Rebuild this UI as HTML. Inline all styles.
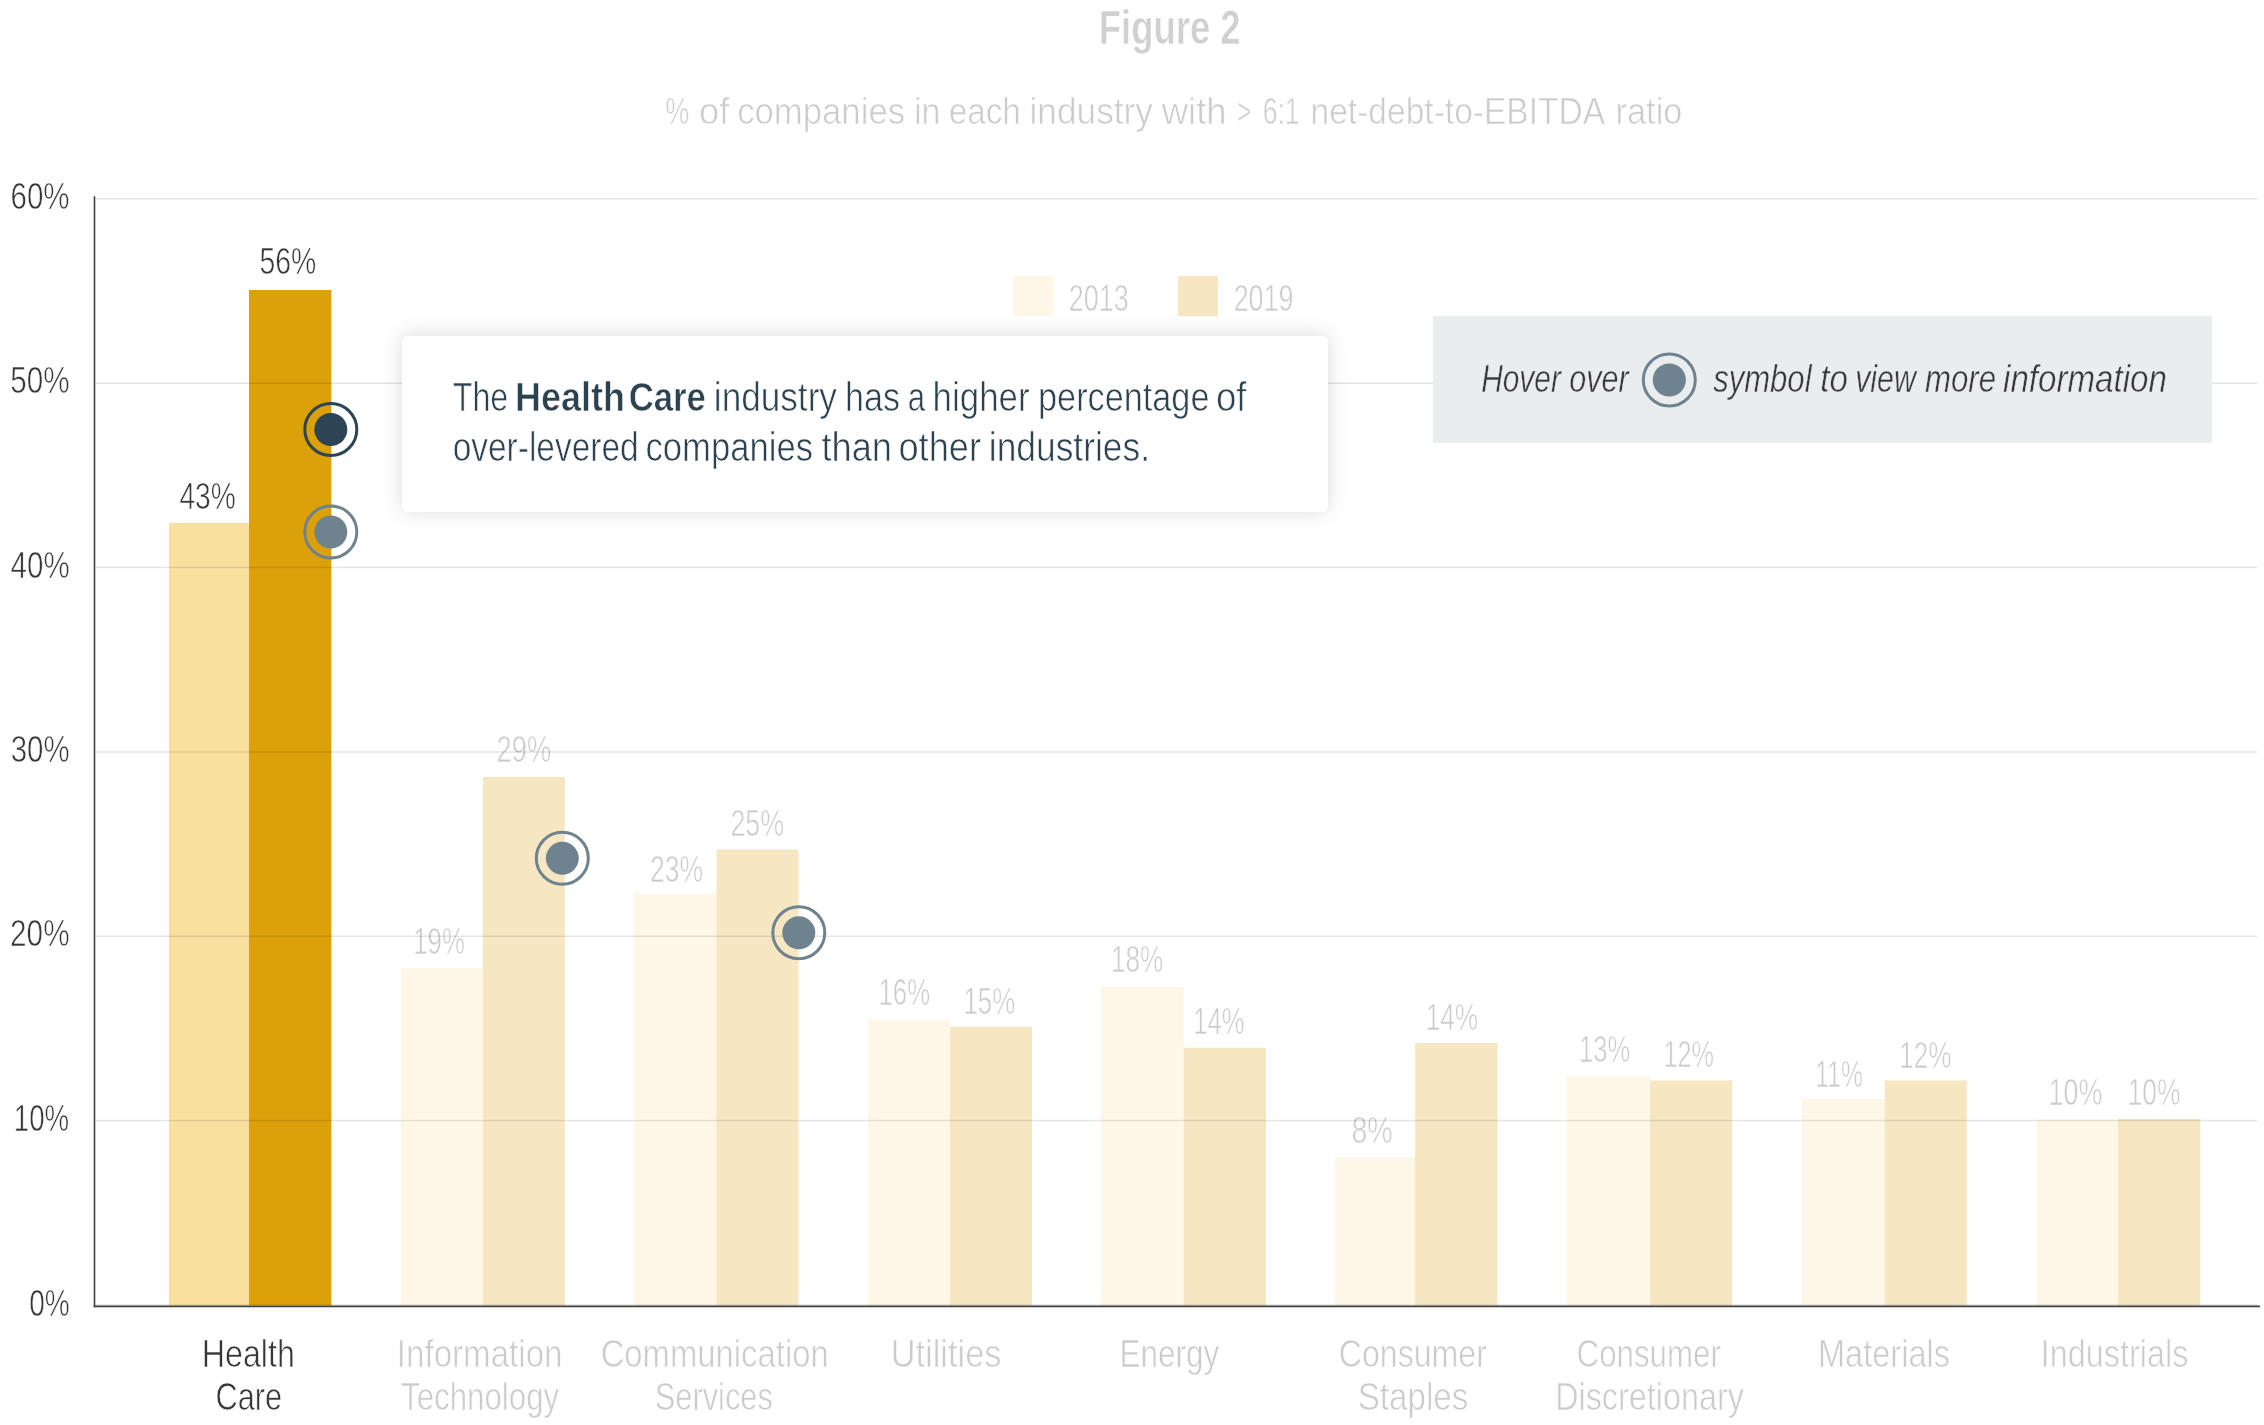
<!DOCTYPE html>
<html><head><meta charset="utf-8"><title>Figure 2</title>
<style>
html,body{margin:0;padding:0;background:#fff;}
body{width:2264px;height:1425px;overflow:hidden;font-family:"Liberation Sans",sans-serif;}
svg{display:block;position:absolute;left:0;top:0;}
text{font-family:"Liberation Sans",sans-serif;}
</style></head><body>
<svg width="2264" height="1425" viewBox="0 0 2264 1425">
<defs><filter id="sh" x="-10%" y="-40%" width="120%" height="180%"><feDropShadow dx="0" dy="-1" stdDeviation="10" flood-color="#000" flood-opacity="0.15"/></filter></defs>
<rect width="2264" height="1425" fill="#fff"/>
<g opacity="0.999">
<text x="1098.76" y="44.25" font-size="48" fill="#d0d0d0" stroke="#fff" stroke-width="0.6" textLength="141.82" lengthAdjust="spacingAndGlyphs" font-weight="bold">Figure 2</text>
<text x="665.30" y="123.75" font-size="36" fill="#cbcbcb" stroke="#fff" stroke-width="0.65" textLength="24.14" lengthAdjust="spacingAndGlyphs" >%</text>
<text x="699.04" y="123.75" font-size="36" fill="#cbcbcb" stroke="#fff" stroke-width="0.65" textLength="30.29" lengthAdjust="spacingAndGlyphs" >of</text>
<text x="737.13" y="123.75" font-size="36" fill="#cbcbcb" stroke="#fff" stroke-width="0.65" textLength="167.96" lengthAdjust="spacingAndGlyphs" >companies</text>
<text x="913.89" y="123.75" font-size="36" fill="#cbcbcb" stroke="#fff" stroke-width="0.65" textLength="26.47" lengthAdjust="spacingAndGlyphs" >in</text>
<text x="948.74" y="123.75" font-size="36" fill="#cbcbcb" stroke="#fff" stroke-width="0.65" textLength="72.10" lengthAdjust="spacingAndGlyphs" >each</text>
<text x="1029.48" y="123.75" font-size="36" fill="#cbcbcb" stroke="#fff" stroke-width="0.65" textLength="123.49" lengthAdjust="spacingAndGlyphs" >industry</text>
<text x="1161.70" y="123.75" font-size="36" fill="#cbcbcb" stroke="#fff" stroke-width="0.65" textLength="64.98" lengthAdjust="spacingAndGlyphs" >with</text>
<text x="1236.93" y="123.75" font-size="36" fill="#cbcbcb" stroke="#fff" stroke-width="0.65" textLength="14.19" lengthAdjust="spacingAndGlyphs" >&gt;</text>
<text x="1262.64" y="123.75" font-size="36" fill="#cbcbcb" stroke="#fff" stroke-width="0.65" textLength="36.96" lengthAdjust="spacingAndGlyphs" >6:1</text>
<text x="1310.50" y="123.75" font-size="36" fill="#cbcbcb" stroke="#fff" stroke-width="0.65" textLength="294.67" lengthAdjust="spacingAndGlyphs" >net-debt-to-EBITDA</text>
<text x="1615.58" y="123.75" font-size="36" fill="#cbcbcb" stroke="#fff" stroke-width="0.65" textLength="66.80" lengthAdjust="spacingAndGlyphs" >ratio</text>
<rect x="169" y="522.9" width="80.00" height="782.50" fill="#FAE09E"/>
<rect x="249" y="290" width="82.40" height="1015.40" fill="#DCA00B"/>
<rect x="400.7" y="968.2" width="82.30" height="337.20" fill="#FAE09E" fill-opacity="0.25"/>
<rect x="483" y="777" width="81.90" height="528.40" fill="#DCA00B" fill-opacity="0.25"/>
<rect x="634.3" y="893.5" width="82.20" height="411.90" fill="#FAE09E" fill-opacity="0.25"/>
<rect x="716.5" y="849.5" width="82.00" height="455.90" fill="#DCA00B" fill-opacity="0.25"/>
<rect x="868" y="1019.7" width="82.00" height="285.70" fill="#FAE09E" fill-opacity="0.25"/>
<rect x="950" y="1026.8" width="82.00" height="278.60" fill="#DCA00B" fill-opacity="0.25"/>
<rect x="1101.1" y="987" width="82.70" height="318.40" fill="#FAE09E" fill-opacity="0.25"/>
<rect x="1183.8" y="1047.8" width="82.20" height="257.60" fill="#DCA00B" fill-opacity="0.25"/>
<rect x="1335" y="1157.1" width="80.10" height="148.30" fill="#FAE09E" fill-opacity="0.25"/>
<rect x="1415.1" y="1043" width="82.50" height="262.40" fill="#DCA00B" fill-opacity="0.25"/>
<rect x="1567" y="1075.8" width="83.00" height="229.60" fill="#FAE09E" fill-opacity="0.25"/>
<rect x="1650" y="1080.5" width="82.00" height="224.90" fill="#DCA00B" fill-opacity="0.25"/>
<rect x="1801.7" y="1099" width="83.00" height="206.40" fill="#FAE09E" fill-opacity="0.25"/>
<rect x="1884.7" y="1080.5" width="82.10" height="224.90" fill="#DCA00B" fill-opacity="0.25"/>
<rect x="2036.3" y="1119.7" width="81.70" height="185.70" fill="#FAE09E" fill-opacity="0.25"/>
<rect x="2118" y="1119" width="82.30" height="186.40" fill="#DCA00B" fill-opacity="0.25"/>
<text x="10.50" y="208.70" font-size="37" fill="#363636" stroke="#fff" stroke-width="0.65" textLength="59.08" lengthAdjust="spacingAndGlyphs" >60%</text>
<text x="10.30" y="393.20" font-size="37" fill="#363636" stroke="#fff" stroke-width="0.65" textLength="59.33" lengthAdjust="spacingAndGlyphs" >50%</text>
<text x="10.62" y="577.60" font-size="37" fill="#363636" stroke="#fff" stroke-width="0.65" textLength="58.99" lengthAdjust="spacingAndGlyphs" >40%</text>
<text x="10.71" y="761.90" font-size="37" fill="#363636" stroke="#fff" stroke-width="0.65" textLength="58.91" lengthAdjust="spacingAndGlyphs" >30%</text>
<text x="10.05" y="946.30" font-size="37" fill="#363636" stroke="#fff" stroke-width="0.65" textLength="59.54" lengthAdjust="spacingAndGlyphs" >20%</text>
<text x="13.87" y="1130.50" font-size="37" fill="#363636" stroke="#fff" stroke-width="0.65" textLength="55.34" lengthAdjust="spacingAndGlyphs" >10%</text>
<text x="29.15" y="1315.75" font-size="37" fill="#363636" stroke="#fff" stroke-width="0.65" textLength="40.53" lengthAdjust="spacingAndGlyphs" >0%</text>
<text x="179.41" y="509.25" font-size="37" fill="#363636" stroke="#fff" stroke-width="0.65" textLength="56.38" lengthAdjust="spacingAndGlyphs" >43%</text>
<text x="259.51" y="274.25" font-size="37" fill="#363636" stroke="#fff" stroke-width="0.65" textLength="56.81" lengthAdjust="spacingAndGlyphs" >56%</text>
<text x="413.27" y="953.75" font-size="37" fill="#cbcbcb" stroke="#fff" stroke-width="0.65" textLength="51.65" lengthAdjust="spacingAndGlyphs" >19%</text>
<text x="496.60" y="762.00" font-size="37" fill="#cbcbcb" stroke="#fff" stroke-width="0.65" textLength="54.71" lengthAdjust="spacingAndGlyphs" >29%</text>
<text x="650.10" y="882.25" font-size="37" fill="#cbcbcb" stroke="#fff" stroke-width="0.65" textLength="53.12" lengthAdjust="spacingAndGlyphs" >23%</text>
<text x="730.40" y="835.50" font-size="37" fill="#cbcbcb" stroke="#fff" stroke-width="0.65" textLength="53.70" lengthAdjust="spacingAndGlyphs" >25%</text>
<text x="878.41" y="1005.00" font-size="37" fill="#cbcbcb" stroke="#fff" stroke-width="0.65" textLength="51.74" lengthAdjust="spacingAndGlyphs" >16%</text>
<text x="963.41" y="1013.75" font-size="37" fill="#cbcbcb" stroke="#fff" stroke-width="0.65" textLength="51.74" lengthAdjust="spacingAndGlyphs" >15%</text>
<text x="1111.05" y="972.00" font-size="37" fill="#cbcbcb" stroke="#fff" stroke-width="0.65" textLength="52.19" lengthAdjust="spacingAndGlyphs" >18%</text>
<text x="1193.27" y="1034.00" font-size="37" fill="#cbcbcb" stroke="#fff" stroke-width="0.65" textLength="51.38" lengthAdjust="spacingAndGlyphs" >14%</text>
<text x="1351.49" y="1143.00" font-size="37" fill="#cbcbcb" stroke="#fff" stroke-width="0.65" textLength="41.20" lengthAdjust="spacingAndGlyphs" >8%</text>
<text x="1425.68" y="1030.00" font-size="37" fill="#cbcbcb" stroke="#fff" stroke-width="0.65" textLength="52.49" lengthAdjust="spacingAndGlyphs" >14%</text>
<text x="1579.05" y="1062.00" font-size="37" fill="#cbcbcb" stroke="#fff" stroke-width="0.65" textLength="51.14" lengthAdjust="spacingAndGlyphs" >13%</text>
<text x="1663.39" y="1067.00" font-size="37" fill="#cbcbcb" stroke="#fff" stroke-width="0.65" textLength="50.53" lengthAdjust="spacingAndGlyphs" >12%</text>
<text x="1815.34" y="1087.00" font-size="37" fill="#cbcbcb" stroke="#fff" stroke-width="0.65" textLength="47.63" lengthAdjust="spacingAndGlyphs" >11%</text>
<text x="1899.26" y="1067.80" font-size="37" fill="#cbcbcb" stroke="#fff" stroke-width="0.65" textLength="52.22" lengthAdjust="spacingAndGlyphs" >12%</text>
<text x="2048.62" y="1104.60" font-size="37" fill="#cbcbcb" stroke="#fff" stroke-width="0.65" textLength="53.69" lengthAdjust="spacingAndGlyphs" >10%</text>
<text x="2127.67" y="1104.60" font-size="37" fill="#cbcbcb" stroke="#fff" stroke-width="0.65" textLength="52.78" lengthAdjust="spacingAndGlyphs" >10%</text>
<text x="201.73" y="1367.00" font-size="38" fill="#363636" stroke="#fff" stroke-width="0.65" textLength="93.08" lengthAdjust="spacingAndGlyphs" >Health</text>
<text x="215.55" y="1409.50" font-size="38" fill="#363636" stroke="#fff" stroke-width="0.65" textLength="66.55" lengthAdjust="spacingAndGlyphs" >Care</text>
<text x="396.87" y="1367.00" font-size="38" fill="#cbcbcb" stroke="#fff" stroke-width="0.65" textLength="165.59" lengthAdjust="spacingAndGlyphs" >Information</text>
<text x="401.04" y="1409.50" font-size="38" fill="#cbcbcb" stroke="#fff" stroke-width="0.65" textLength="158.19" lengthAdjust="spacingAndGlyphs" >Technology</text>
<text x="600.63" y="1367.00" font-size="38" fill="#cbcbcb" stroke="#fff" stroke-width="0.65" textLength="228.11" lengthAdjust="spacingAndGlyphs" >Communication</text>
<text x="654.69" y="1409.50" font-size="38" fill="#cbcbcb" stroke="#fff" stroke-width="0.65" textLength="118.25" lengthAdjust="spacingAndGlyphs" >Services</text>
<text x="890.75" y="1367.00" font-size="38" fill="#cbcbcb" stroke="#fff" stroke-width="0.65" textLength="110.69" lengthAdjust="spacingAndGlyphs" >Utilities</text>
<text x="1119.60" y="1367.00" font-size="38" fill="#cbcbcb" stroke="#fff" stroke-width="0.65" textLength="99.56" lengthAdjust="spacingAndGlyphs" >Energy</text>
<text x="1338.84" y="1367.00" font-size="38" fill="#cbcbcb" stroke="#fff" stroke-width="0.65" textLength="148.04" lengthAdjust="spacingAndGlyphs" >Consumer</text>
<text x="1357.66" y="1409.50" font-size="38" fill="#cbcbcb" stroke="#fff" stroke-width="0.65" textLength="110.80" lengthAdjust="spacingAndGlyphs" >Staples</text>
<text x="1576.55" y="1367.00" font-size="38" fill="#cbcbcb" stroke="#fff" stroke-width="0.65" textLength="144.37" lengthAdjust="spacingAndGlyphs" >Consumer</text>
<text x="1555.14" y="1409.50" font-size="38" fill="#cbcbcb" stroke="#fff" stroke-width="0.65" textLength="188.70" lengthAdjust="spacingAndGlyphs" >Discretionary</text>
<text x="1817.92" y="1367.00" font-size="38" fill="#cbcbcb" stroke="#fff" stroke-width="0.65" textLength="132.17" lengthAdjust="spacingAndGlyphs" >Materials</text>
<text x="2040.63" y="1367.00" font-size="38" fill="#cbcbcb" stroke="#fff" stroke-width="0.65" textLength="147.79" lengthAdjust="spacingAndGlyphs" >Industrials</text>
<text x="1068.63" y="310.75" font-size="37" fill="#cbcbcb" stroke="#fff" stroke-width="0.65" textLength="60.08" lengthAdjust="spacingAndGlyphs" >2013</text>
<text x="1233.66" y="310.75" font-size="37" fill="#cbcbcb" stroke="#fff" stroke-width="0.65" textLength="59.83" lengthAdjust="spacingAndGlyphs" >2019</text>
<line x1="96" x2="2257" y1="198.7" y2="198.7" stroke="#000" stroke-opacity="0.105" stroke-width="1.5"/>
<line x1="96" x2="2257" y1="383.2" y2="383.2" stroke="#000" stroke-opacity="0.105" stroke-width="1.5"/>
<line x1="96" x2="2257" y1="567.6" y2="567.6" stroke="#000" stroke-opacity="0.105" stroke-width="1.5"/>
<line x1="96" x2="2257" y1="751.9" y2="751.9" stroke="#000" stroke-opacity="0.105" stroke-width="1.5"/>
<line x1="96" x2="2257" y1="936.3" y2="936.3" stroke="#000" stroke-opacity="0.105" stroke-width="1.5"/>
<line x1="96" x2="2257" y1="1120.5" y2="1120.5" stroke="#000" stroke-opacity="0.105" stroke-width="1.5"/>
<line x1="95.5" x2="2257" y1="1305" y2="1305" stroke="#000" stroke-opacity="0.105" stroke-width="1.5"/>
<line x1="94.5" x2="94.5" y1="196.3" y2="1307.2" stroke="#404040" stroke-width="1.6"/>
<line x1="93.7" x2="2260" y1="1306.4" y2="1306.4" stroke="#404040" stroke-width="1.6"/>
<rect x="1013" y="276" width="40" height="40" fill="#FAE09E" fill-opacity="0.25"/>
<rect x="1178" y="276" width="40" height="40" fill="#DCA00B" fill-opacity="0.25"/>
<rect x="1432.8" y="316.3" width="779.2" height="126.6" fill="#E9EDEE"/>
<text x="1481.19" y="391.70" font-size="39" fill="#383838" stroke="#E9EDEE" stroke-width="0.5" textLength="79.64" lengthAdjust="spacingAndGlyphs" font-style="italic">Hover</text>
<text x="1569.32" y="391.70" font-size="39" fill="#383838" stroke="#E9EDEE" stroke-width="0.5" textLength="59.28" lengthAdjust="spacingAndGlyphs" font-style="italic">over</text>
<text x="1713.13" y="391.70" font-size="39" fill="#383838" stroke="#E9EDEE" stroke-width="0.5" textLength="98.43" lengthAdjust="spacingAndGlyphs" font-style="italic">symbol</text>
<text x="1820.27" y="391.70" font-size="39" fill="#383838" stroke="#E9EDEE" stroke-width="0.5" textLength="27.68" lengthAdjust="spacingAndGlyphs" font-style="italic">to</text>
<text x="1855.19" y="391.70" font-size="39" fill="#383838" stroke="#E9EDEE" stroke-width="0.5" textLength="60.58" lengthAdjust="spacingAndGlyphs" font-style="italic">view</text>
<text x="1924.96" y="391.70" font-size="39" fill="#383838" stroke="#E9EDEE" stroke-width="0.5" textLength="71.02" lengthAdjust="spacingAndGlyphs" font-style="italic">more</text>
<text x="2003.12" y="391.70" font-size="39" fill="#383838" stroke="#E9EDEE" stroke-width="0.5" textLength="163.72" lengthAdjust="spacingAndGlyphs" font-style="italic">information</text>
<circle cx="1669.3" cy="380" r="26" fill="none" stroke="#6E838F" stroke-width="3"/><circle cx="1669.3" cy="380" r="16.6" fill="#6E838F"/>
<circle cx="330.8" cy="429.5" r="26" fill="none" stroke="#2C4453" stroke-width="3"/><circle cx="330.8" cy="429.5" r="16.5" fill="#2C4453"/>
<circle cx="330.8" cy="532" r="26" fill="none" stroke="#6E838F" stroke-width="3"/><circle cx="330.8" cy="532" r="16.5" fill="#6E838F"/>
<circle cx="562.3" cy="858.3" r="26" fill="none" stroke="#6E838F" stroke-width="3"/><circle cx="562.3" cy="858.3" r="16.5" fill="#6E838F"/>
<circle cx="798.8" cy="932.8" r="26" fill="none" stroke="#6E838F" stroke-width="3"/><circle cx="798.8" cy="932.8" r="16.5" fill="#6E838F"/>
<rect x="402" y="336.3" width="926" height="175.7" rx="6" ry="6" fill="#fff" filter="url(#sh)"/>
<text x="452.67" y="411.25" font-size="40" fill="#2C4250" stroke="#fff" stroke-width="0.65" textLength="55.63" lengthAdjust="spacingAndGlyphs" >The</text>
<text x="515.00" y="411.25" font-size="40" fill="#2C4250" stroke="#fff" stroke-width="0.6" textLength="109.97" lengthAdjust="spacingAndGlyphs" font-weight="bold">Health</text>
<text x="628.64" y="411.25" font-size="40" fill="#2C4250" stroke="#fff" stroke-width="0.6" textLength="77.31" lengthAdjust="spacingAndGlyphs" font-weight="bold">Care</text>
<text x="713.87" y="411.25" font-size="40" fill="#2C4250" stroke="#fff" stroke-width="0.65" textLength="123.05" lengthAdjust="spacingAndGlyphs" >industry</text>
<text x="844.96" y="411.25" font-size="40" fill="#2C4250" stroke="#fff" stroke-width="0.65" textLength="55.01" lengthAdjust="spacingAndGlyphs" >has</text>
<text x="907.85" y="411.25" font-size="40" fill="#2C4250" stroke="#fff" stroke-width="0.65" textLength="17.36" lengthAdjust="spacingAndGlyphs" >a</text>
<text x="932.58" y="411.25" font-size="40" fill="#2C4250" stroke="#fff" stroke-width="0.65" textLength="96.98" lengthAdjust="spacingAndGlyphs" >higher</text>
<text x="1038.08" y="411.25" font-size="40" fill="#2C4250" stroke="#fff" stroke-width="0.65" textLength="171.35" lengthAdjust="spacingAndGlyphs" >percentage</text>
<text x="1215.97" y="411.25" font-size="40" fill="#2C4250" stroke="#fff" stroke-width="0.65" textLength="30.48" lengthAdjust="spacingAndGlyphs" >of</text>
<text x="452.68" y="460.50" font-size="40" fill="#2C4250" stroke="#fff" stroke-width="0.65" textLength="185.95" lengthAdjust="spacingAndGlyphs" >over-levered</text>
<text x="645.51" y="460.50" font-size="40" fill="#2C4250" stroke="#fff" stroke-width="0.65" textLength="167.63" lengthAdjust="spacingAndGlyphs" >companies</text>
<text x="821.52" y="460.50" font-size="40" fill="#2C4250" stroke="#fff" stroke-width="0.65" textLength="70.47" lengthAdjust="spacingAndGlyphs" >than</text>
<text x="898.45" y="460.50" font-size="40" fill="#2C4250" stroke="#fff" stroke-width="0.65" textLength="82.51" lengthAdjust="spacingAndGlyphs" >other</text>
<text x="988.82" y="460.50" font-size="40" fill="#2C4250" stroke="#fff" stroke-width="0.65" textLength="161.16" lengthAdjust="spacingAndGlyphs" >industries.</text>
</g></svg>
</body></html>
